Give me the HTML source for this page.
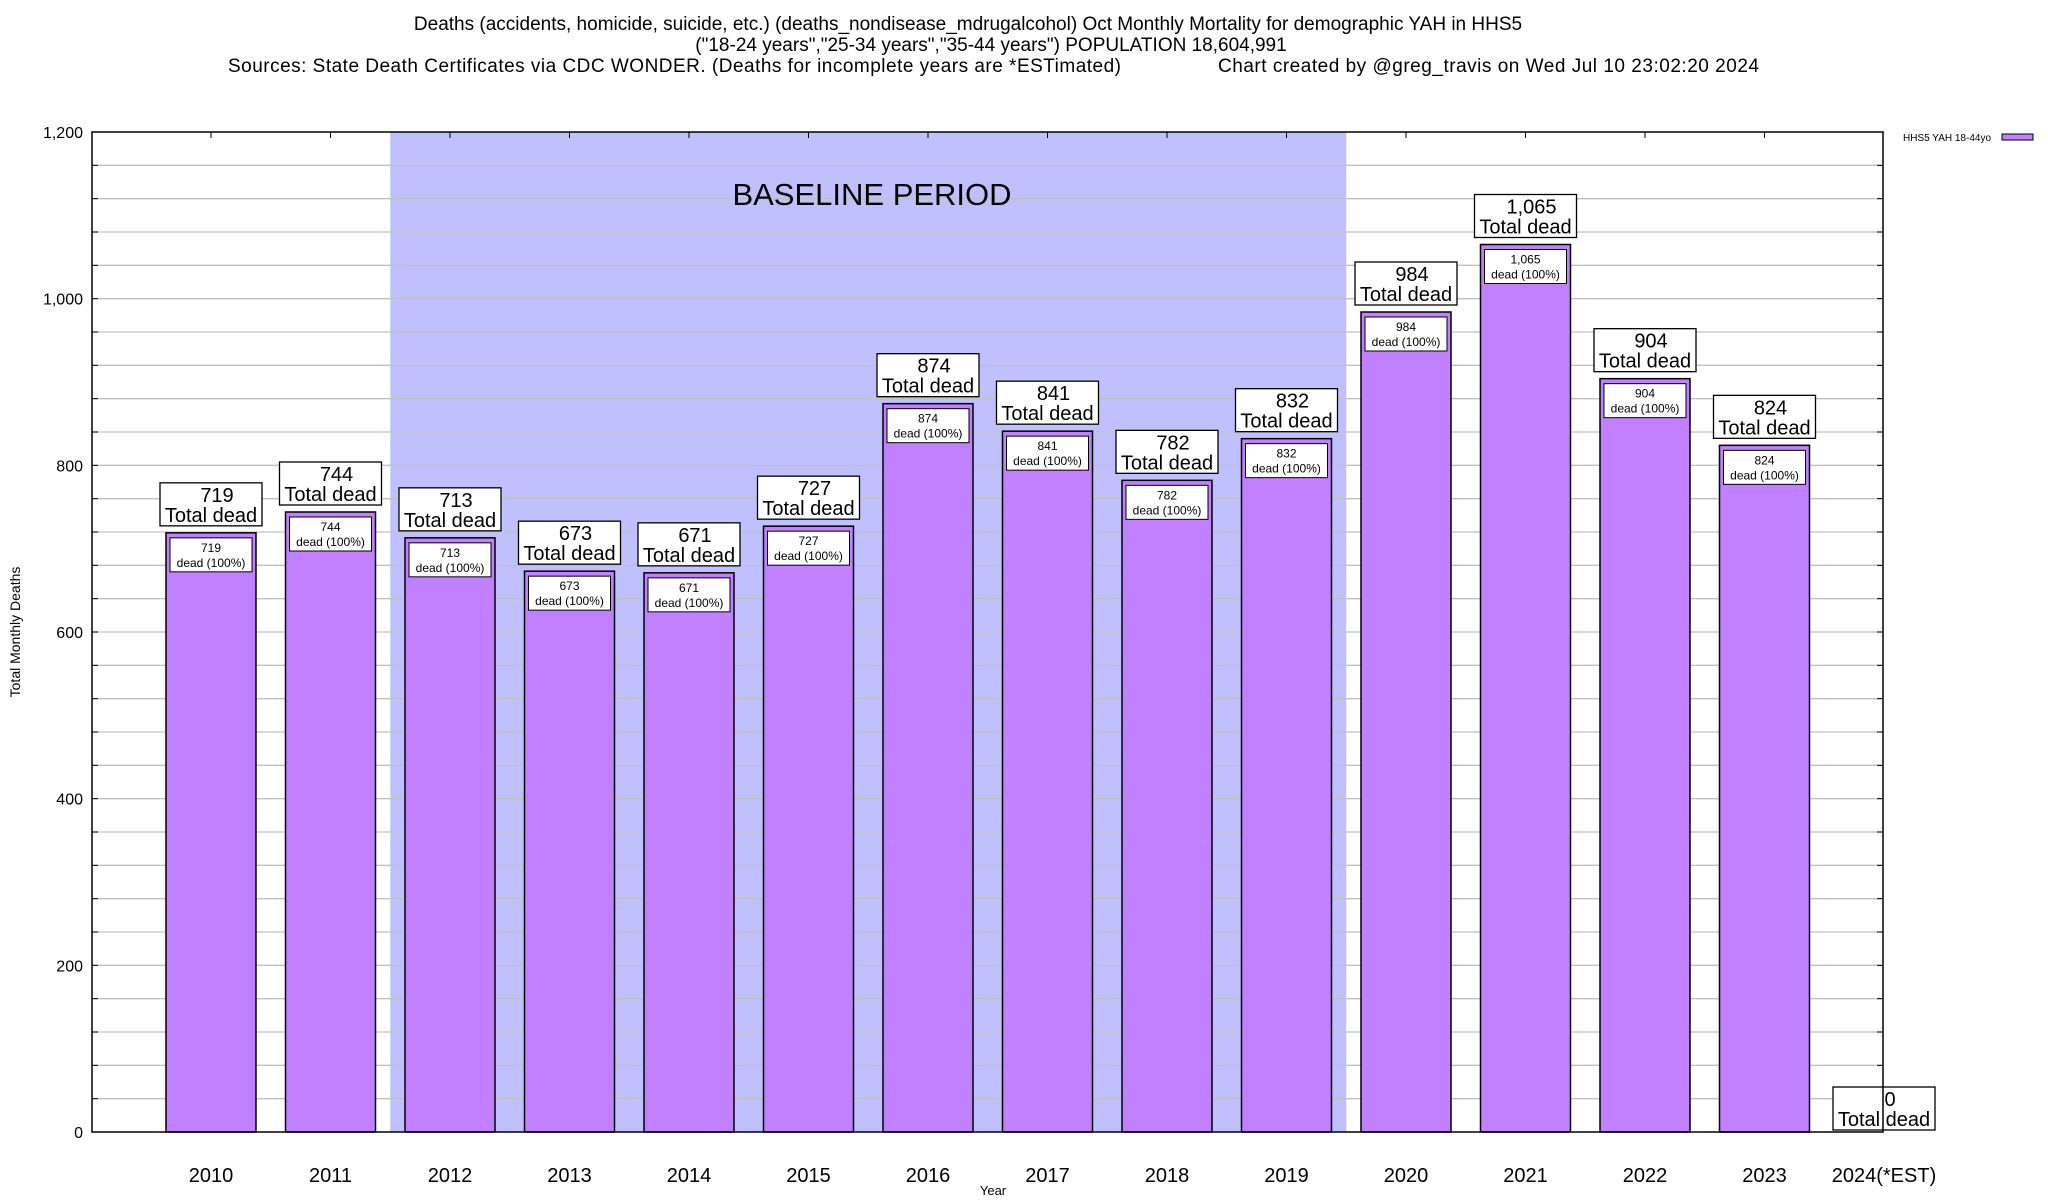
<!DOCTYPE html>
<html><head><meta charset="utf-8"><style>
html,body{margin:0;padding:0;background:#fff;}
svg{display:block;font-family:"Liberation Sans",Arial,sans-serif;}
</style></head><body>
<svg id="chart" width="2048" height="1200" viewBox="0 0 2048 1200">
<g font-size="19" text-anchor="middle">
<text x="968" y="30">Deaths (accidents, homicide, suicide, etc.) (deaths_nondisease_mdrugalcohol) Oct Monthly Mortality for demographic YAH in HHS5</text>
<text x="991" y="51">("18-24 years","25-34 years","35-44 years") POPULATION 18,604,991</text>
<text x="228" y="72" text-anchor="start" textLength="893">Sources: State Death Certificates via CDC WONDER. (Deaths for incomplete years are *ESTimated)</text>
<text x="1218" y="72" text-anchor="start" textLength="541">Chart created by @greg_travis on Wed Jul 10 23:02:20 2024</text>
</g>
<g id="plot"></g>
<text x="993" y="1195" font-size="13" text-anchor="middle">Year</text>
<text transform="translate(20,632) rotate(-90)" font-size="14" text-anchor="middle">Total Monthly Deaths</text>
<g>
<text x="1903" y="141" font-size="10">HHS5 YAH 18-44yo</text>
<rect x="2002" y="134" width="31" height="6" fill="#c080ff" stroke="#000" stroke-width="1"/>
</g>
</svg>
<script>
const categories = ["2010","2011","2012","2013","2014","2015","2016","2017","2018","2019","2020","2021","2022","2023","2024(*EST)"];
const deaths = [719,744,713,673,671,727,874,841,782,832,984,1065,904,824,0];
const yTicks = [0,200,400,600,800,1000,1200];
const baselineStart = 2, baselineEnd = 9;
const NS = "http://www.w3.org/2000/svg";
const L = 92, R = 1883, T = 132, B = 1132;
const yMax = 1200;
const STEP = 119.5;
function y(v){ return B - (v / yMax) * (B - T); }
function x(i){ return 211 + STEP * i; }
const plot = document.getElementById('plot');
function mk(tag, attrs, parent){ const e = document.createElementNS(NS, tag); for (const k in attrs) e.setAttribute(k, attrs[k]); (parent||plot).appendChild(e); return e; }
const sh = mk('rect', {x: x(baselineStart) - STEP/2, y: T, width: x(baselineEnd) - x(baselineStart) + STEP, height: B - T, fill: '#c0c0ff'});


for (let v = 40; v < yMax; v += 40) {
  const g = mk('line', {x1: L, x2: R, y1: y(v), y2: y(v), stroke: '#c0c0c0', 'stroke-width': 1.3});
  
  
  mk('line', {x1: L, x2: L + 6, y1: y(v), y2: y(v), stroke: '#000'});
  mk('line', {x1: R - 6, x2: R, y1: y(v), y2: y(v), stroke: '#000'});
}
const bt = mk('text', {x: 872, y: 205, 'font-size': 31, 'text-anchor': 'middle'});
bt.textContent = 'BASELINE PERIOD';


yTicks.forEach(v => {
  const t = mk('text', {x: 83, y: y(v) + 6, 'font-size': 16, 'text-anchor': 'end'});
  t.textContent = v.toLocaleString('en-US');
  
  
});
categories.forEach((c, i) => {
  const v = deaths[i], cx = x(i);
  if (cx < R) mk('line', {x1: cx, x2: cx, y1: T, y2: T + 6, stroke: '#000'});
  const tl = mk('text', {x: cx, y: 1182, 'font-size': 20, 'text-anchor': 'middle'});
  tl.textContent = c;
  
  
  if (v > 0) {
    const b = mk('rect', {x: cx - 45, y: y(v), width: 90, height: B - y(v), fill: '#c080ff', stroke: '#000', 'stroke-width': 1.5});
    
    
    const ib = mk('rect', {x: cx - 41, y: y(v) + 5, width: 82, height: 34, fill: '#fff', stroke: '#000', 'stroke-width': 1});
    
    
    const it1 = mk('text', {x: cx, y: y(v) + 19, 'font-size': 12, 'text-anchor': 'middle'});
    it1.textContent = v.toLocaleString('en-US');
    
    
    const it2 = mk('text', {x: cx, y: y(v) + 34, 'font-size': 12, 'text-anchor': 'middle'});
    it2.textContent = 'dead (100%)';
    
    
  }
  const by = (v > 0 ? y(v) - 50 : B - 45);
  const ob = mk('rect', {x: cx - 51, y: by, width: 102, height: 43, fill: '#fff', stroke: '#000', 'stroke-width': 1.3});
  
  
  const o1 = mk('text', {x: cx + 6, y: by + 19, 'font-size': 20, 'text-anchor': 'middle'});
  o1.textContent = v.toLocaleString('en-US');
  
  
  const o2 = mk('text', {x: cx, y: by + 39, 'font-size': 20, 'text-anchor': 'middle'});
  o2.textContent = 'Total dead';
  
  
});
const fr = mk('rect', {x: L, y: T, width: R - L, height: B - T, fill: 'none', stroke: '#000', 'stroke-width': 1.5});


</script>
</body></html>
